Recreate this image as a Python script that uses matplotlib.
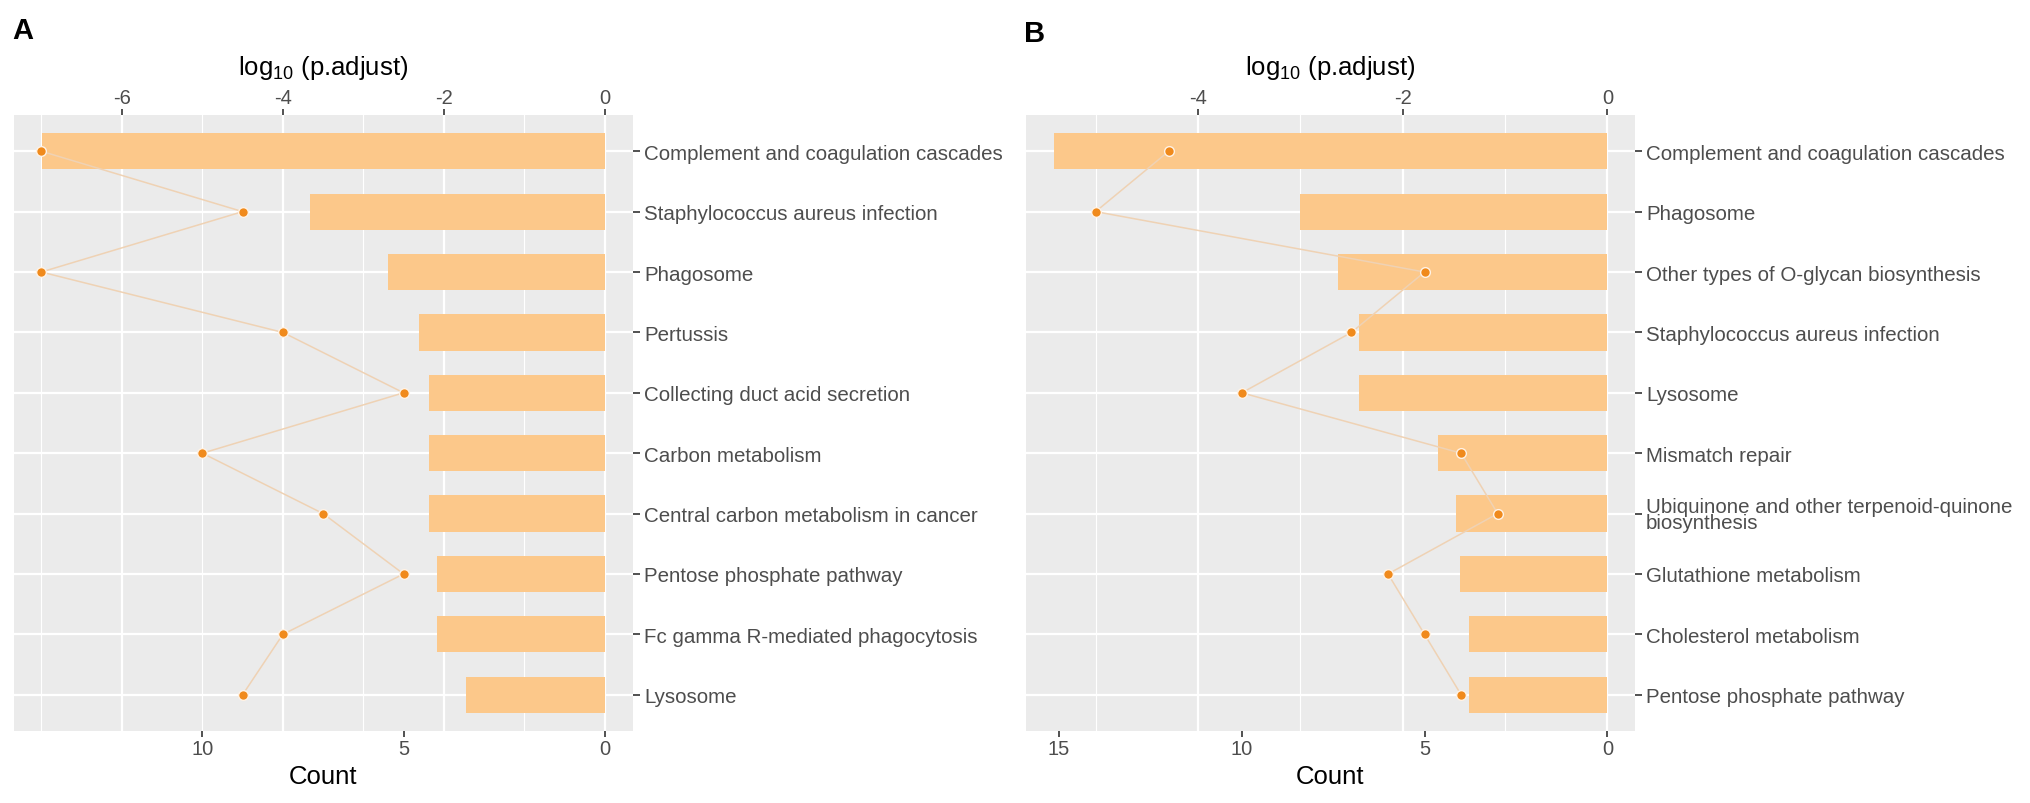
import numpy as np
import matplotlib
matplotlib.use("Agg")
import matplotlib.pyplot as plt

plt.rcParams['font.family'] = ['Liberation Sans', 'DejaVu Sans']
plt.rcParams['mathtext.default'] = 'regular'

# panel A: KEGG terms, log10(p.adjust) and gene counts
terms_a = ["Complement and coagulation cascades", "Staphylococcus aureus infection",
           "Phagosome", "Pertussis", "Collecting duct acid secretion",
           "Carbon metabolism", "Central carbon metabolism in cancer",
           "Pentose phosphate pathway", "Fc gamma R-mediated phagocytosis", "Lysosome"]
logp_a = [-6.99, -3.66, -2.69, -2.31, -2.19, -2.19, -2.18, -2.09, -2.09, -1.73]
count_a = [14, 9, 14, 8, 5, 10, 7, 5, 8, 9]

# panel B
terms_b = ["Complement and coagulation cascades", "Phagosome",
           "Other types of O-glycan biosynthesis", "Staphylococcus aureus infection",
           "Lysosome", "Mismatch repair",
           "Ubiquinone and other terpenoid-quinone\nbiosynthesis",
           "Glutathione metabolism", "Cholesterol metabolism", "Pentose phosphate pathway"]
logp_b = [-5.41, -3.0, -2.63, -2.43, -2.43, -1.65, -1.48, -1.44, -1.35, -1.35]
count_b = [12, 14, 5, 7, 10, 4, 3, 6, 5, 4]

# count axis scale relative to log axis (count = -k * log10)
k_a = 2.0
k_b = 2.8

bar_col = '#FCC88A'
pt_col = '#F08A1C'
txt_col = '#4D4D4D'

fig = plt.figure(figsize=(20.31, 8.04), dpi=100)


def panel(rect, terms, logp, counts, k, top_ticks, bot_ticks, letter, letter_xy):
    ax = fig.add_axes(rect)
    n = len(terms)
    y = np.arange(n)
    lo = min(logp)
    pad = 0.05 * (0 - lo)
    ax.set_xlim(lo - pad, pad)
    ax.set_ylim(n - 0.4, -0.6)
    ax.set_facecolor('#EBEBEB')
    for s in ax.spines.values():
        s.set_visible(False)

    ax.barh(y, logp, height=0.6, color=bar_col, zorder=2)

    # points for Count, drawn on a twin axis with a matching scale
    ax2 = ax.twiny()
    ax2.set_xlim(-k * (lo - pad), -k * pad)
    ax2.set_ylim(ax.get_ylim())
    for s in ax2.spines.values():
        s.set_visible(False)
    ax2.plot(counts, y, '-', color='#EFD2B4', lw=1.1, zorder=3)
    ax2.plot(counts, y, 'o', color=pt_col, ms=7, mec='#FFF3E6', mew=1.0, zorder=4)
    ax2.xaxis.tick_bottom()
    ax2.xaxis.set_label_position('bottom')
    ax2.set_xticks(bot_ticks)
    ax2.set_xticklabels([str(t) for t in bot_ticks])
    ax2.set_xlabel('Count', fontsize=18.5, labelpad=4)
    ax2.tick_params(axis='x', labelsize=14.5, colors='#333333', labelcolor=txt_col,
                    length=4, width=1.2, pad=2)

    # log10 axis on top
    ax.xaxis.tick_top()
    ax.xaxis.set_label_position('top')
    ax.set_xticks(top_ticks)
    ax.set_xticklabels([str(t) for t in top_ticks])
    minor = [t + 1 for t in top_ticks[:-1]]
    if top_ticks[0] - 1 > lo - pad:
        minor.append(top_ticks[0] - 1)
    ax.set_xticks(minor, minor=True)
    ax.set_xlabel(r'log$_{10}$ (p.adjust)', fontsize=18.5, labelpad=10)
    ax.tick_params(axis='x', which='major', labelsize=14.5, colors='#333333',
                   labelcolor=txt_col, length=4, width=1.2, pad=2)
    ax.tick_params(axis='x', which='minor', length=0)
    ax.grid(True, which='major', axis='both', color='white', lw=1.6, zorder=0)
    ax.grid(True, which='minor', axis='x', color='white', lw=0.8, zorder=0)
    ax.set_axisbelow(True)

    ax.set_yticks(y)
    ax.set_yticklabels(terms)
    ax.yaxis.tick_right()
    ax.tick_params(axis='y', labelsize=14.8, colors='#333333', labelcolor=txt_col,
                   length=5, width=1.2, pad=3)
    for lab in ax.get_yticklabels():
        lab.set_linespacing(0.85)

    fig.text(letter_xy[0], letter_xy[1], letter, fontsize=21, fontweight='bold',
             ha='left', va='top')


panel([14 / 2031, 1 - 732 / 804, 619 / 2031, 616 / 804], terms_a, logp_a, count_a, k_a,
      [-6, -4, -2, 0], [10, 5, 0], 'A', (12 / 2031, 1 - 17 / 804))
panel([1026 / 2031, 1 - 732 / 804, 609 / 2031, 616 / 804], terms_b, logp_b, count_b, k_b,
      [-4, -2, 0], [15, 10, 5, 0], 'B', (1024 / 2031, 1 - 20 / 804))

fig.savefig('out.png', dpi=100)
